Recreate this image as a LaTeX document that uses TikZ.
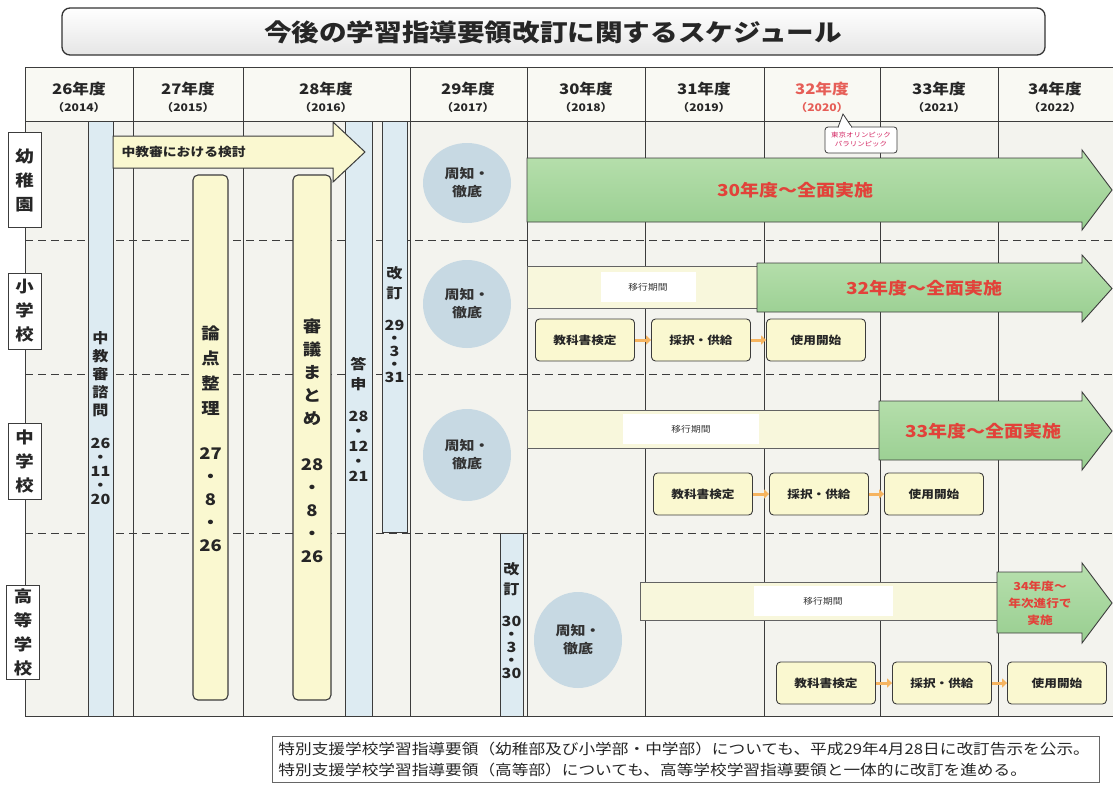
\documentclass[tikz,border=0pt]{standalone}
\usepackage{fontspec}
\setmainfont[FakeStretch=1.15]{Noto Sans CJK JP}
\usetikzlibrary{arrows.meta,shapes.geometric}
\definecolor{ligne}{RGB}{60,60,60}
\definecolor{fond}{RGB}{243,243,238}
\definecolor{entete}{RGB}{249,249,243}
\definecolor{bleu}{RGB}{221,235,242}
\definecolor{jaune}{RGB}{250,248,208}
\definecolor{jaunec}{RGB}{248,247,220}
\definecolor{bleurond}{RGB}{199,217,227}
\definecolor{vertA}{RGB}{184,224,174}
\definecolor{vertB}{RGB}{152,206,144}
\definecolor{rouge}{RGB}{226,66,58}
\definecolor{rose}{RGB}{212,40,100}
\definecolor{fleche}{RGB}{246,180,96}

\begin{document}
\begin{tikzpicture}[x=1pt,y=-1pt,
  trait/.style={draw=ligne,line width=0.8pt},
  barre/.style={trait,fill=bleu},
  pilier/.style={draw=ligne,fill=jaune,rounded corners=5pt,line width=1.1pt},
  vtxt/.style={align=center,inner sep=0pt,text=black!85},
  rang/.style={draw=ligne,fill=white,line width=0.8pt,align=center,minimum width=33,inner sep=1pt,font=\fontsize{16}{24}\selectfont\bfseries,text=black!85},
  annee/.style={align=center,inner sep=0pt,font=\fontsize{14.5}{18}\selectfont\bfseries},
  rond/.style={ellipse,fill=bleurond,minimum width=88,minimum height=88,inner sep=0pt,align=center,font=\fontsize{13}{18}\selectfont\bfseries,text=black!80},
  transit/.style={draw=ligne!80,fill=jaunec,line width=0.8pt},
  patch/.style={fill=white,minimum height=30,inner sep=0pt,font=\fontsize{8.5}{10}\selectfont,text=black!80},
  vert/.style={draw=ligne,line width=0.9pt,top color=vertA,bottom color=vertB},
  impl/.style={font=\fontsize{16.5}{22}\selectfont\bfseries,text=rouge,align=center},
  livre/.style={draw=ligne,fill=jaune,rounded corners=4pt,minimum width=99,minimum height=42,font=\fontsize{11}{13}\selectfont\bfseries,line width=0.9pt,text=black!85},
  lien/.style={draw=fleche,line width=3pt,-{Triangle[length=5pt,width=9pt]}},
  bulle/.style={draw=ligne,fill=white,line width=0.8pt,rounded corners=3pt,minimum width=72,minimum height=26,inner sep=1pt,align=center,font=\fontsize{6.5}{9}\selectfont,text=rose}]
\useasboundingbox (0,0) rectangle (1113,787);
% titre
\draw[rounded corners=8pt,line width=1.3pt,draw=black!80,top color=white,bottom color=black!10] (62,8) rectangle (1045,55);
\node[font=\fontsize{24}{28}\selectfont\bfseries,text=black!85] (titre) at (553,32) {今後の学習指導要領改訂に関するスケジュール};
% tableau
\draw[trait,fill=entete] (25,67) rectangle (1113,121);
\draw[trait,fill=fond] (25,121) rectangle (1113,716);
\foreach \x in {133,243,410,527,645,764,880,998}
  \draw[trait] (\x,67) -- (\x,716);
\foreach \y in {240,374,533}
  \draw[trait,dash pattern=on 8pt off 5pt] (25,\y) -- (1113,\y);
\foreach \an/\yr/\cx/\col in {26/2014/79/black, 27/2015/188/black, 28/2016/326/black, 29/2017/468/black, 30/2018/586/black,
  31/2019/704/black, 32/2020/822/rouge, 33/2021/939/black, 34/2022/1055/black}
  \node[annee,text=\col!85] (a\an) at (\cx,97) {\an{}年度\\[-1pt]{\fontsize{10.5}{12}\selectfont （\yr{}）}};
% barres verticales
\foreach \xa/\xb/\ya/\yb in {88/113/121/716, 345/372/121/716, 382/407/121/532, 500/523/533/716}
  \draw[barre] (\xa,\ya) rectangle (\xb,\yb);
\draw[pilier] (193,175) rectangle (228,700);
\draw[pilier] (293,175) rectangle (331,700);
\draw[draw=ligne,fill=jaune,line width=1pt] (113,136) -- (333,136) -- (333,122) -- (365,152) -- (333,182) -- (333,168) -- (113,168) -- cycle;
\node[anchor=west,font=\fontsize{12}{14}\selectfont\bfseries,text=black!85] (kento) at (118,152) {中教審における検討};
\node[vtxt,font=\fontsize{14}{18}\selectfont\bfseries] (shimon) at (100.5,418) {中\\教\\審\\諮\\問\\[15pt]26\\[-4pt]・\\[-4pt]11\\[-4pt]・\\[-4pt]20};
\node[vtxt,font=\fontsize{16}{25}\selectfont\bfseries] (ronten) at (210.5,439) {論\\点\\整\\理\\[20pt]27\\[-2pt]・\\[-2pt]8\\[-2pt]・\\[-2pt]26};
\node[vtxt,font=\fontsize{16}{23}\selectfont\bfseries] (shingi) at (312,441) {審\\議\\ま\\と\\め\\[23pt]28\\・\\8\\・\\26};
\node[vtxt,font=\fontsize{14}{20}\selectfont\bfseries] (toshin) at (358.5,419) {答\\申\\[12pt]28\\[-5pt]・\\[-5pt]12\\[-5pt]・\\[-5pt]21};
\node[vtxt,font=\fontsize{14}{20}\selectfont\bfseries] (kaitei1) at (394.5,325) {改\\訂\\[12pt]29\\[-7pt]・\\[-7pt]3\\[-7pt]・\\[-7pt]31};
\node[vtxt,font=\fontsize{14}{20}\selectfont\bfseries] (kaitei2) at (511.5,621) {改\\訂\\[12pt]30\\[-7pt]・\\[-7pt]3\\[-7pt]・\\[-7pt]30};
% rangees
\node[rang,minimum height=95] (yochien) at (24.5,180) {幼\\稚\\園};
\node[rang,minimum height=76] (shogaku) at (24.5,311) {小\\学\\校};
\node[rang,minimum height=76] (chugaku) at (24.5,461) {中\\学\\校};
\node[rang,minimum height=94] (koko) at (23,632) {高\\等\\学\\校};
\node[rond,minimum height=80] (shuchi1) at (467,183) {周知・\\徹底};
\node[rond] (shuchi2) at (467,304) {周知・\\徹底};
\node[rond,minimum height=92] (shuchi3) at (467,455) {周知・\\徹底};
\node[rond,minimum height=96] (shuchi4) at (578,640) {周知・\\徹底};
% periodes de transition
\draw[transit] (527,266) rectangle (757,308);
\node[patch,minimum width=95] (iko2) at (648,287) {移行期間};
\draw[transit] (527,410) rectangle (879,448);
\node[patch,minimum width=136] (iko3) at (691,429) {移行期間};
\draw[transit] (640,582) rectangle (997,620);
\node[patch,minimum width=139] (iko4) at (823,601) {移行期間};
\foreach \xa/\ya/\yb/\yc/\yd in {527/158/222/150/230, 757/263/312/255/322, 879/401/460/392/470, 997/572/633/563/643}
  \draw[vert] (\xa,\ya) -- (1082,\ya) -- (1082,\yc) -- (1112,{(\yc+\yd)/2}) -- (1082,\yd) -- (1082,\yb) -- (\xa,\yb) -- cycle;
\node[impl] (zenmen1) at (795,190) {30年度～全面実施};
\node[impl] (zenmen2) at (924,288) {32年度～全面実施};
\node[impl] (zenmen3) at (983,431) {33年度～全面実施};
\node[impl,font=\fontsize{11}{17}\selectfont\bfseries] (zenmen4) at (1040,603) {34年度～\\年次進行で\\実施};
% manuels
\foreach \r/\x/\y in {2/535/340, 3/653/494, 4/776/683}{
  \node[livre] (ken\r) at (\x+50,\y) {教科書検定};
  \node[livre] (sai\r) at (\x+166,\y) {採択・供給};
  \node[livre] (shi\r) at (\x+281,\y) {使用開始};
  \draw[lien] (ken\r) -- (sai\r);
  \draw[lien] (sai\r) -- (shi\r);
}
\node[bulle] (olympique) at (861,140) {東京オリンピック\\パラリンピック};
\draw[draw=ligne,fill=white,line width=0.8pt] (838,127.4) -- (843,114) -- (852,127.4);
\draw[white,line width=1.3pt] (839,127) -- (851,127);
% note
\node[draw=black!60,fill=white,line width=0.8pt,anchor=west,text width=815,inner xsep=6,minimum height=46,align=left,font=\fontsize{14.5}{21}\selectfont,text=black!85] (note) at (272,759)
  {特別支援学校学習指導要領（幼稚部及び小学部・中学部）についても、平成29年4月28日に改訂告示を公示。\\特別支援学校学習指導要領（高等部）についても、高等学校学習指導要領と一体的に改訂を進める。};
\end{tikzpicture}
\end{document}
